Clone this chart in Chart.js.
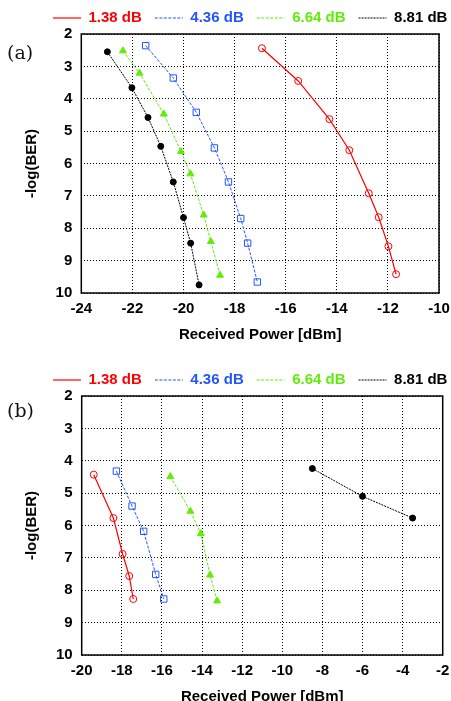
<!DOCTYPE html>
<html>
<head>
<meta charset="utf-8">
<script src="https://cdn.jsdelivr.net/npm/chart.js@4.4.1/dist/chart.umd.min.js"></script>
<style>
  html, body { margin: 0; padding: 0; background: #fff; overflow: hidden; }
  body { width: 451px; height: 701px; position: relative; }
  .panel { position: absolute; left: 0; width: 451px; height: 344px; }
  .tag { position: absolute; left: 7px; font: 19px 'DejaVu Serif', 'Liberation Serif', serif; color: #111; }
</style>
</head>
<body>
<div class="panel" style="top:0"><canvas id="chartA" width="451" height="344"></canvas></div>
<div class="panel" style="top:362px"><canvas id="chartB" width="451" height="344"></canvas></div>
<div class="tag" style="top:41px">(a)</div>
<div class="tag" style="top:399px">(b)</div>
<script>
// series names (extinction ratio)
const seriesLabels = ['1.38 dB', '4.36 dB', '6.64 dB', '8.81 dB'];

// x-axis ticks
const aTicksX = [-24, -22, -20, -18, -16, -14, -12, -10];
const bTicksX = [-20, -18, -16, -14, -12, -10, -8, -6, -4, -2];
const ticksY = [2, 3, 4, 5, 6, 7, 8, 9, 10];

// panel (a): received power [dBm] / -log(BER)
const aPow138 = [-16.93, -15.51, -14.29, -13.51, -12.75, -12.36, -11.98, -11.68];
const aBer138 = [2.44, 3.45, 4.63, 5.59, 6.92, 7.66, 8.56, 9.42];
const aPow436 = [-21.48, -20.40, -19.50, -18.79, -18.24, -17.76, -17.49, -17.11];
const aBer436 = [2.36, 3.36, 4.42, 5.52, 6.57, 7.70, 8.46, 9.66];
const aPow664 = [-22.37, -21.72, -20.77, -20.10, -19.73, -19.21, -18.93, -18.57];
const aBer664 = [2.52, 3.21, 4.47, 5.63, 6.32, 7.59, 8.41, 9.45];
const aPow881 = [-22.98, -22.02, -21.39, -20.89, -20.40, -20.00, -19.72, -19.39];
const aBer881 = [2.55, 3.66, 4.58, 5.47, 6.57, 7.67, 8.46, 9.75];

// panel (b)
const bPow138 = [-19.40, -18.42, -17.96, -17.63, -17.43];
const bBer138 = [4.43, 5.77, 6.88, 7.56, 8.27];
const bPow436 = [-18.27, -17.49, -16.91, -16.31, -15.91];
const bBer436 = [4.32, 5.40, 6.18, 7.51, 8.27];
const bPow664 = [-15.58, -14.58, -14.06, -13.60, -13.25];
const bBer664 = [4.49, 5.56, 6.25, 7.53, 8.33];
const bPow881 = [-8.5, -6.0, -3.5];
const bBer881 = [4.24, 5.10, 5.77];

const RED = '#ff0000', BLUE = '#2255ff', GREEN = '#62ec0a', BLACK = '#000000';
const FONT = "'Liberation Sans', Arial, sans-serif";

const pts = (xs, ys) => xs.map((x, i) => ({ x, y: ys[i] }));

// line style per series: colour, dash, marker
const styles = [
    { color: RED,   dash: [],        point: 'circle',   fill: 'rgba(0,0,0,0)', r: 3.5, w: 1.2 },
    { color: BLUE,  dash: [3, 1.5],  point: 'rect',     fill: 'rgba(0,0,0,0)', r: 4.5, w: 1 },
    { color: GREEN, dash: [3, 1.5],  point: 'triangle', fill: GREEN,           r: 4,   w: 1 },
    { color: BLACK, dash: [2, 1],    point: 'circle',   fill: BLACK,           r: 3,   w: 1 }
];

function makeSets(series) {
    return series.map((data, i) => {
        const s = styles[i];
        return {
            label: seriesLabels[i],
            data,
            borderColor: s.color,
            backgroundColor: s.fill,
            borderWidth: s.w,
            borderDash: s.dash,
            pointStyle: s.point,
            pointRadius: s.r,
            pointBorderWidth: 1,
            pointBorderColor: s.color,
            pointBackgroundColor: s.fill,
            showLine: true,
            tension: 0,
            fill: false
        };
    });
}

// solid frame around the plot
const frame = {
    id: 'frame',
    beforeDatasetsDraw(chart) {
        const { ctx, chartArea: a } = chart;
        ctx.save();
        ctx.strokeStyle = '#000';
        ctx.lineWidth = 1.5;
        ctx.strokeRect(a.left, a.top, a.right - a.left, a.bottom - a.top);
        ctx.restore();
    }
};

// legend row starts at a fixed x / y
const legendShift = {
    id: 'legendShift',
    afterLayout(chart, args, opts) {
        const lg = chart.legend;
        const pad = lg.options.labels.padding;
        lg.left = opts.x - pad;
        lg.right = chart.width + 100;
        lg.top = opts.y - pad - 7.5;
    }
};

function buildChart(id, sets, xMin, xMax, xTicks, plotLeft, padRight) {
    return new Chart(document.getElementById(id), {
        type: 'scatter',
        data: { datasets: sets },
        plugins: [frame, legendShift],
        options: {
            responsive: false,
            animation: false,
            // legend box is 38px high, plot starts at y=34
            layout: { padding: { left: 0, right: padRight, top: -4, bottom: 0 } },
            scales: {
                x: {
                    type: 'linear',
                    min: xMin, max: xMax,
                    afterBuildTicks: s => { s.ticks = xTicks.map(v => ({ value: v })); },
                    afterFit: s => { s.height = 51; s.paddingLeft = 0; s.paddingRight = 0; },
                    grid: { color: '#000', lineWidth: 1, drawTicks: false },
                    border: { display: false, dash: [1, 2] },
                    ticks: { color: '#000', padding: 7, font: { family: FONT, size: 15, weight: 'bold' } },
                    title: {
                        display: true, text: 'Received Power [dBm]', color: '#000',
                        padding: { top: 0, bottom: 0 },
                        font: { family: FONT, size: 15, weight: 'bold' }
                    }
                },
                y: {
                    type: 'linear',
                    reverse: true,
                    min: 2, max: 10,
                    afterBuildTicks: s => { s.ticks = ticksY.map(v => ({ value: v })); },
                    afterFit: s => { s.width = plotLeft; s.paddingTop = 0; s.paddingBottom = 0; },
                    grid: { color: '#000', lineWidth: 1, drawTicks: false },
                    border: { display: false, dash: [1, 2] },
                    ticks: { color: '#000', padding: 9, font: { family: FONT, size: 15, weight: 'bold' } },
                    title: {
                        display: true, text: '-log(BER)', color: '#000',
                        padding: { top: 23, bottom: 0 },
                        font: { family: FONT, size: 15, weight: 'bold' }
                    }
                }
            },
            plugins: {
                legendShift: { x: 53, y: 18 },
                tooltip: { enabled: false },
                legend: {
                    display: true,
                    position: 'top',
                    align: 'start',
                    labels: {
                        usePointStyle: true,
                        pointStyleWidth: 28,
                        padding: 13,
                        font: { family: FONT, size: 15, weight: 'bold' },
                        generateLabels: chart => chart.data.datasets.map((ds, i) => ({
                            text: ds.label,
                            fontColor: ds.borderColor,
                            strokeStyle: ds.borderColor,
                            fillStyle: ds.borderColor,
                            lineWidth: 1.2,
                            lineDash: ds.borderDash,
                            pointStyle: 'line',
                            hidden: false,
                            datasetIndex: i
                        }))
                    }
                }
            }
        }
    });
}

buildChart('chartA', makeSets([
    pts(aPow138, aBer138), pts(aPow436, aBer436), pts(aPow664, aBer664), pts(aPow881, aBer881)
]), -24, -10, aTicksX, 81.3, 12);

buildChart('chartB', makeSets([
    pts(bPow138, bBer138), pts(bPow436, bBer436), pts(bPow664, bBer664), pts(bPow881, bBer881)
]), -20, -2, bTicksX, 81.7, 8.3);
</script>
</body>
</html>
